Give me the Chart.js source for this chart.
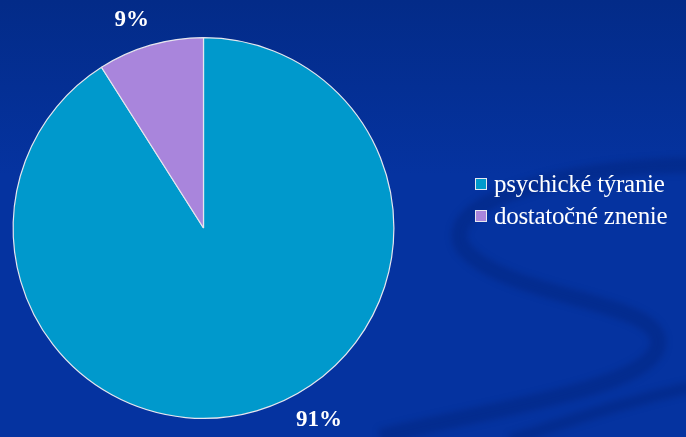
<!DOCTYPE html>
<html lang="sk">
<head>
<meta charset="utf-8">
<script src="https://cdn.jsdelivr.net/npm/chart.js@4/dist/chart.umd.min.js"></script>
<style>
  html, body { margin: 0; padding: 0; }
  body {
    width: 686px; height: 437px; overflow: hidden; position: relative;
    background: linear-gradient(180deg, #032b88 0%, #0533a0 40%, #0533a0 100%);
    font-family: "Liberation Serif", "DejaVu Serif", serif;
  }
  #wrap { position: absolute; left: 0; top: 0; width: 686px; height: 437px; }
  #legend { position: absolute; left: 475px; top: 168px; color: #fff; }
  .item { display: flex; align-items: center; height: 32px; font-size: 25px; letter-spacing: -0.3px; }
  .box { width: 10px; height: 10px; border: 1px solid #e8e8f0; margin-right: 7px; }
</style>
</head>
<body>
<div id="wrap"><canvas id="pie"></canvas></div>
<div id="legend"></div>
<script>
const categories = ["psychické týranie", "dostatočné znenie"];
const shares = [91, 9];
const sliceColors = ["#0099cc", "#a985dc"];
// where each percentage sits, as an angle (deg, clockwise from 12 o'clock) and a distance past the rim
const labelAngles = [149, -19];
const labelGaps = [34, 30];

// faint swirl in the slide background
const swirl = {
  id: "swirl",
  beforeDraw(chart) {
    const c = chart.ctx;
    c.save();
    c.filter = "blur(3px)";
    c.strokeStyle = "rgba(0, 25, 100, 0.28)";
    c.lineWidth = 16;
    c.beginPath();
    c.moveTo(700, 165);
    c.bezierCurveTo(560, 165, 430, 205, 465, 250);
    c.bezierCurveTo(510, 300, 665, 300, 658, 345);
    c.bezierCurveTo(650, 390, 480, 410, 380, 437);
    c.stroke();
    c.lineWidth = 12;
    c.beginPath();
    c.moveTo(700, 385);
    c.bezierCurveTo(610, 405, 560, 425, 510, 440);
    c.stroke();
    c.restore();
  }
};

// percentage labels outside the pie
const outerLabels = {
  id: "outerLabels",
  afterDatasetsDraw(chart) {
    const c = chart.ctx;
    const meta = chart.getDatasetMeta(0);
    const arc = meta.data[0];
    const total = shares.reduce((a, b) => a + b, 0);
    c.save();
    c.fillStyle = "#ffffff";
    c.font = "bold 23px 'Liberation Serif', serif";
    c.textAlign = "center";
    c.textBaseline = "middle";
    shares.forEach((v, i) => {
      const a = labelAngles[i] * Math.PI / 180;
      const r = arc.outerRadius + labelGaps[i];
      const x = arc.x + Math.sin(a) * r;
      const y = arc.y - Math.cos(a) * r;
      c.fillText(Math.round(v / total * 100) + "%", x, y);
    });
    c.restore();
  }
};

new Chart(document.getElementById("pie"), {
  type: "pie",
  data: {
    labels: categories,
    datasets: [{
      data: shares,
      backgroundColor: sliceColors,
      borderColor: "#e6e6ee",
      borderWidth: 1.2
    }]
  },
  options: {
    responsive: true,
    maintainAspectRatio: false,
    animation: false,
    layout: { padding: { left: 12, right: 291, top: 37, bottom: 18 } },
    plugins: {
      legend: { display: false },
      tooltip: { enabled: false }
    }
  },
  plugins: [swirl, outerLabels]
});

const legend = document.getElementById("legend");
categories.forEach((name, i) => {
  const row = document.createElement("div");
  row.className = "item";
  row.innerHTML = '<span class="box" style="background:' + sliceColors[i] + '"></span><span>' + name + '</span>';
  legend.appendChild(row);
});
</script>
</body>
</html>
